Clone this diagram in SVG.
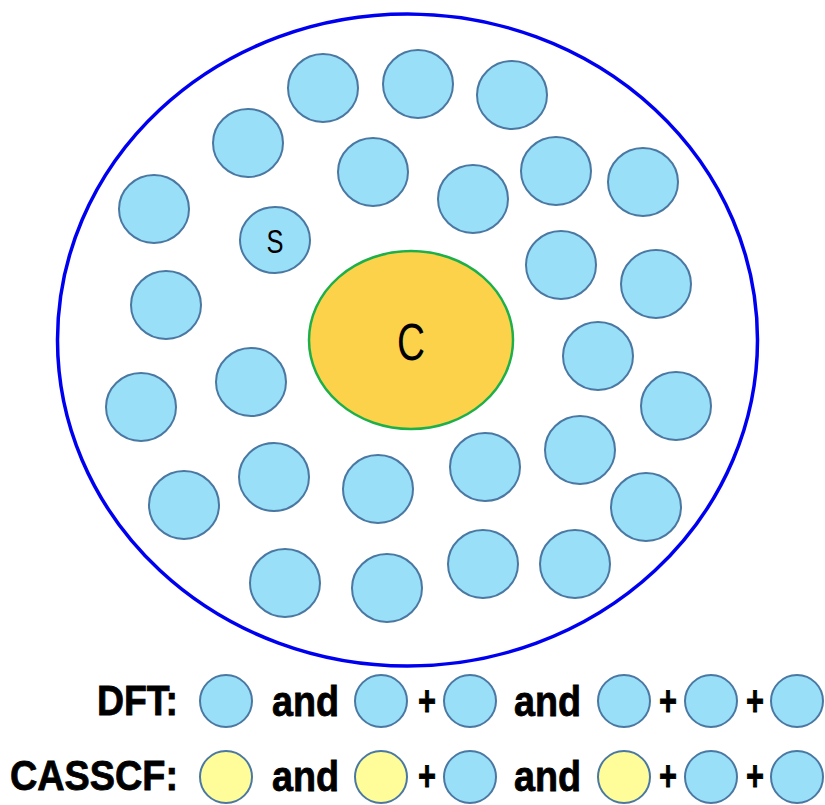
<svg xmlns="http://www.w3.org/2000/svg" width="825" height="805" viewBox="0 0 825 805">
<style>
.b{fill:#9adff8;stroke:#4a78a2;stroke-width:2}
.y{fill:#fefd9a;stroke:#4a78a2;stroke-width:2}
.lbl{font-family:"Liberation Sans",Arial,sans-serif;font-weight:bold;font-size:42px;fill:#000;stroke:#000;stroke-width:0.8}
.in{font-family:"Liberation Sans",Arial,sans-serif;fill:#000;text-anchor:middle}
</style>
<rect width="825" height="805" fill="#fff"/>
<g id="outer"><ellipse cx="407.5" cy="340" rx="350" ry="326" fill="none" stroke="#0000f0" stroke-width="3.5"/></g>
<g id="center"><ellipse cx="411" cy="340" rx="102" ry="89" fill="#fbd24a" stroke="#1db04a" stroke-width="2.5"/><text class="in" x="411" y="360" font-size="52" textLength="28" lengthAdjust="spacingAndGlyphs">C</text></g>
<g id="s"><ellipse class="b" cx="275" cy="240" rx="35" ry="33"/><text class="in" x="275" y="253" font-size="33" textLength="17" lengthAdjust="spacingAndGlyphs">S</text></g>
<g id="molecules">
<ellipse class="b" cx="323" cy="88" rx="35" ry="34"/>
<ellipse class="b" cx="418" cy="84" rx="35" ry="34"/>
<ellipse class="b" cx="512" cy="95" rx="35" ry="34"/>
<ellipse class="b" cx="248" cy="143" rx="35" ry="34"/>
<ellipse class="b" cx="373" cy="172" rx="35" ry="34"/>
<ellipse class="b" cx="473" cy="199" rx="35" ry="34"/>
<ellipse class="b" cx="556" cy="171" rx="35" ry="34"/>
<ellipse class="b" cx="643" cy="182" rx="35" ry="34"/>
<ellipse class="b" cx="154" cy="209" rx="35" ry="34"/>
<ellipse class="b" cx="166" cy="305" rx="35" ry="34"/>
<ellipse class="b" cx="561" cy="265" rx="35" ry="34"/>
<ellipse class="b" cx="656" cy="284" rx="35" ry="34"/>
<ellipse class="b" cx="251" cy="382" rx="35" ry="34"/>
<ellipse class="b" cx="598" cy="356" rx="35" ry="34"/>
<ellipse class="b" cx="141" cy="407" rx="35" ry="34"/>
<ellipse class="b" cx="676" cy="406" rx="35" ry="34"/>
<ellipse class="b" cx="274" cy="477" rx="35" ry="34"/>
<ellipse class="b" cx="378" cy="489" rx="35" ry="34"/>
<ellipse class="b" cx="485" cy="467" rx="35" ry="34"/>
<ellipse class="b" cx="580" cy="450" rx="35" ry="34"/>
<ellipse class="b" cx="184" cy="505" rx="35" ry="34"/>
<ellipse class="b" cx="646" cy="507" rx="35" ry="34"/>
<ellipse class="b" cx="285" cy="583" rx="35" ry="34"/>
<ellipse class="b" cx="387" cy="588" rx="35" ry="34"/>
<ellipse class="b" cx="483" cy="564" rx="35" ry="34"/>
<ellipse class="b" cx="575" cy="564" rx="35" ry="34"/>
</g>
<g id="legend-dft">
<text class="lbl" x="97" y="715" textLength="81" lengthAdjust="spacingAndGlyphs">DFT:</text>
<ellipse class="b" cx="226" cy="701" rx="26" ry="26"/>
<text class="lbl" x="272" y="716" textLength="67" lengthAdjust="spacingAndGlyphs">and</text>
<ellipse class="b" cx="381" cy="701" rx="26" ry="26"/>
<text class="lbl" x="418" y="715" textLength="18" lengthAdjust="spacingAndGlyphs">+</text>
<ellipse class="b" cx="470" cy="701" rx="26" ry="26"/>
<text class="lbl" x="514" y="716" textLength="67" lengthAdjust="spacingAndGlyphs">and</text>
<ellipse class="b" cx="624" cy="701" rx="26" ry="26"/>
<text class="lbl" x="659" y="715" textLength="18" lengthAdjust="spacingAndGlyphs">+</text>
<ellipse class="b" cx="711" cy="701" rx="26" ry="26"/>
<text class="lbl" x="746" y="715" textLength="18" lengthAdjust="spacingAndGlyphs">+</text>
<ellipse class="b" cx="797" cy="701" rx="26" ry="26"/>
</g>
<g id="legend-casscf">
<text class="lbl" x="10" y="790" textLength="168" lengthAdjust="spacingAndGlyphs">CASSCF:</text>
<ellipse class="y" cx="226" cy="777" rx="26" ry="26"/>
<text class="lbl" x="272" y="791" textLength="67" lengthAdjust="spacingAndGlyphs">and</text>
<ellipse class="y" cx="381" cy="777" rx="26" ry="26"/>
<text class="lbl" x="418" y="790" textLength="18" lengthAdjust="spacingAndGlyphs">+</text>
<ellipse class="b" cx="470" cy="777" rx="26" ry="26"/>
<text class="lbl" x="514" y="791" textLength="67" lengthAdjust="spacingAndGlyphs">and</text>
<ellipse class="y" cx="624" cy="777" rx="26" ry="26"/>
<text class="lbl" x="659" y="790" textLength="18" lengthAdjust="spacingAndGlyphs">+</text>
<ellipse class="b" cx="711" cy="777" rx="26" ry="26"/>
<text class="lbl" x="746" y="790" textLength="18" lengthAdjust="spacingAndGlyphs">+</text>
<ellipse class="b" cx="797" cy="777" rx="26" ry="26"/>
</g>
</svg>
